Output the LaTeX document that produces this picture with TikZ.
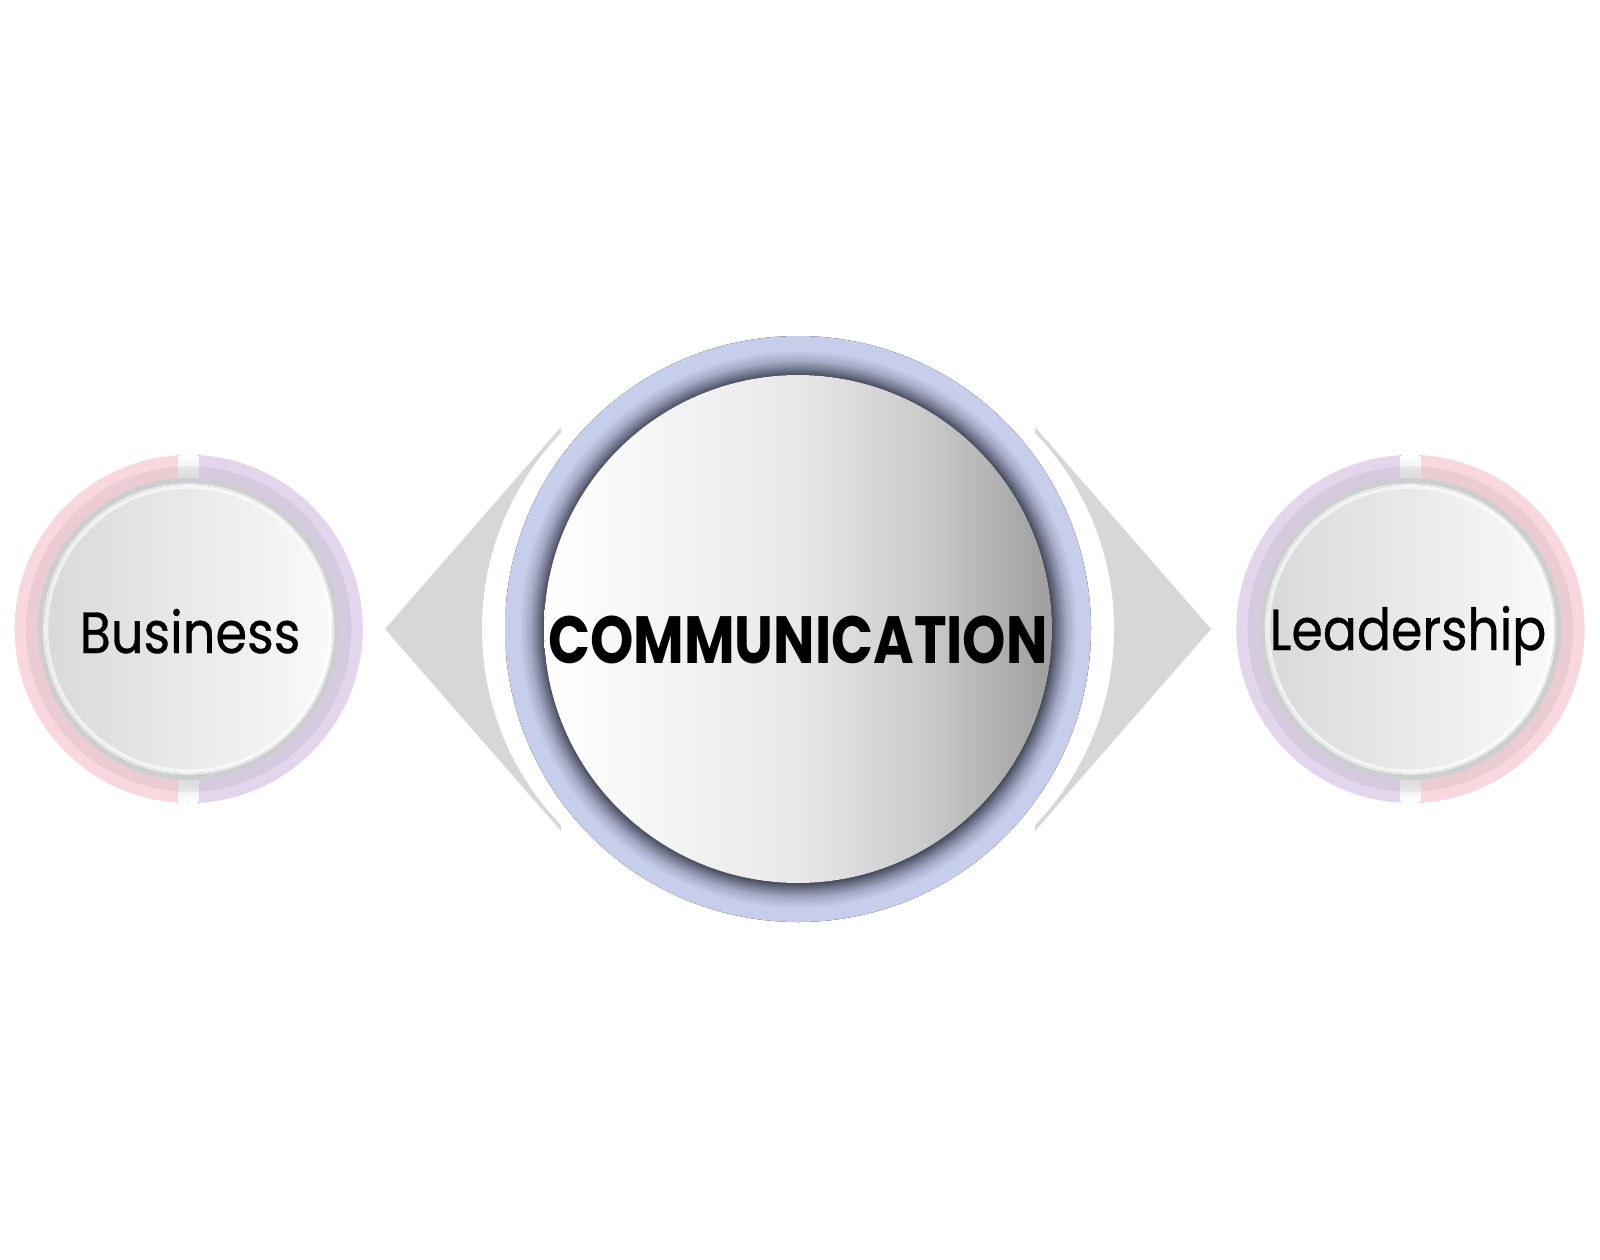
\documentclass[tikz,border=0pt]{standalone}
\usepackage{graphicx}
\usepackage{fontspec}
\setmainfont{Poppins}
\newfontfamily\labelfont{Poppins}[FakeBold=0.6]
\usetikzlibrary{positioning}

\definecolor{ringblue}{RGB}{199,206,236}
\definecolor{haloc}{RGB}{58,62,80}
\definecolor{wedgec}{RGB}{215,215,215}
\definecolor{ringpink}{RGB}{248,215,222}
\definecolor{ringlav}{RGB}{226,213,236}
\definecolor{rimc}{RGB}{205,206,207}
\definecolor{discl}{RGB}{216,217,218}
\definecolor{gapc}{RGB}{232,232,232}

% big disc: white on the left, grey on the right
\pgfdeclarehorizontalshading{bigdisc}{100bp}{color(0bp)=(white); color(25bp)=(white);
  color(50bp)=(white!91!black); color(62bp)=(white!80!black); color(75bp)=(white!62!black); color(100bp)=(white!62!black)}
% small discs: grey on the left, white on the right
\pgfdeclarehorizontalshading{smalldisc}{100bp}{color(0bp)=(discl); color(25bp)=(discl);
  color(75bp)=(white!98!black); color(100bp)=(white!98!black)}
% dark halo round the big disc, inside the blue ring
\pgfdeclareradialshading{halo}{\pgfpointorigin}{color(0bp)=(haloc); color(21.6bp)=(haloc!95!ringblue);
  color(22.2bp)=(haloc!60!ringblue); color(22.9bp)=(haloc!25!ringblue); color(23.8bp)=(ringblue); color(50bp)=(ringblue)}
% light grey where the gaps meet the rim
\pgfdeclareradialshading{gapfade}{\pgfpointorigin}{color(0bp)=(gapc); color(21.7bp)=(gapc);
  color(25bp)=(white); color(50bp)=(white)}

\tikzset{
  wedge/.style={fill=wedgec},
  cut/.style={fill=white},
  label/.style={anchor=base, text=black, inner sep=0pt}
}

\begin{document}
\begin{tikzpicture}[x=0.01cm, y=0.01cm]
  \useasboundingbox (0,0) rectangle (1600,1259);
  \fill[white] (0,0) rectangle (1600,1259);

  \coordinate (cm) at (798,630);
  \coordinate[left=6.09cm of cm] (lb);
  \coordinate[right=6.12cm of cm] (ll);

  % grey wedges on both sides
  \fill[wedge] (385,630) -- (561,832) -- (561,428) -- cycle;
  \fill[cut] (764.5,630) circle[radius=282.5];
  \fill[wedge] (1211,630) -- (1035,832) -- (1035,428) -- cycle;
  \fill[cut] (831.5,630) circle[radius=282.5];

  % centre circle
  \fill[shading=halo] (cm) circle[radius=293];
  \fill[shading=bigdisc] (cm) circle[radius=254];

  % side circles
  \foreach \c/\lc/\rc in {lb/ringpink/ringlav, ll/ringlav/ringpink} {
    \fill[\lc] (\c) circle[radius=174];
    \fill[\rc] (\c) ++(0,174) arc[start angle=90, end angle=-90, radius=174] -- cycle;
    \begin{scope}
      \clip (\c) ++(-10,-180) rectangle ++(20,360);
      \fill[shading=gapfade] (\c) circle[radius=174];
    \end{scope}
    \draw[black, opacity=.05, line width=5] (\c) circle[radius=154];
    \fill[rimc] (\c) circle[radius=151];
    \fill[shading=smalldisc] (\c) circle[radius=144];
    \draw[white, opacity=.6, line width=1.5] (\c) circle[radius=143];
  }

  \node (n1) [label] at (190,606) {\scalebox{0.88}[1]{\labelfont\fontsize{16.5}{18}\selectfont Business}};
  \node (n2) [label] at (798,596) {\scalebox{0.825}[1]{\fontsize{19}{22}\selectfont\bfseries COMMUNICATION}};
  \node (n3) [label] at (1408,609) {\scalebox{0.87}[1]{\labelfont\fontsize{16.5}{18}\selectfont Leadership}};
\end{tikzpicture}
\end{document}
